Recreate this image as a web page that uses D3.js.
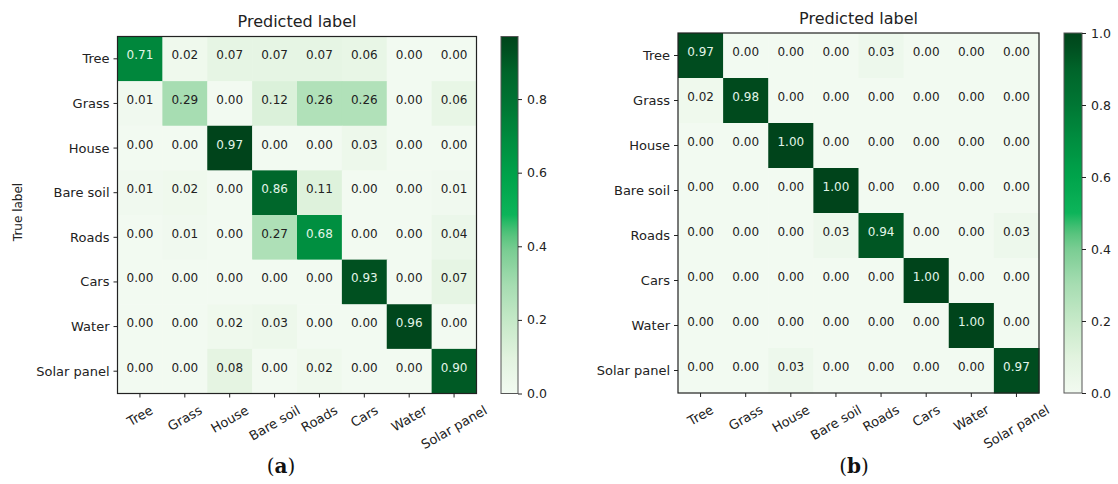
<!DOCTYPE html>
<html>
<head>
<meta charset="utf-8">
<script src="https://cdn.jsdelivr.net/npm/d3@7"></script>
<style>
  html, body { margin: 0; padding: 0; background: #ffffff; }
  svg { display: block; }
  text { font-family: "DejaVu Sans", sans-serif; fill: #222; }
</style>
</head>
<body>
<svg id="chart" width="1118" height="484"></svg>
<script>
// Land-cover classes shared by both confusion matrices
const classes = ["Tree", "Grass", "House", "Bare soil", "Roads", "Cars", "Water", "Solar panel"];

// (a) normalised confusion matrix, rows = true label, columns = predicted label
const matrixA = [
  [0.71, 0.02, 0.07, 0.07, 0.07, 0.06, 0.00, 0.00],
  [0.01, 0.29, 0.00, 0.12, 0.26, 0.26, 0.00, 0.06],
  [0.00, 0.00, 0.97, 0.00, 0.00, 0.03, 0.00, 0.00],
  [0.01, 0.02, 0.00, 0.86, 0.11, 0.00, 0.00, 0.01],
  [0.00, 0.01, 0.00, 0.27, 0.68, 0.00, 0.00, 0.04],
  [0.00, 0.00, 0.00, 0.00, 0.00, 0.93, 0.00, 0.07],
  [0.00, 0.00, 0.02, 0.03, 0.00, 0.00, 0.96, 0.00],
  [0.00, 0.00, 0.08, 0.00, 0.02, 0.00, 0.00, 0.90]
];

// (b) normalised confusion matrix
const matrixB = [
  [0.97, 0.00, 0.00, 0.00, 0.03, 0.00, 0.00, 0.00],
  [0.02, 0.98, 0.00, 0.00, 0.00, 0.00, 0.00, 0.00],
  [0.00, 0.00, 1.00, 0.00, 0.00, 0.00, 0.00, 0.00],
  [0.00, 0.00, 0.00, 1.00, 0.00, 0.00, 0.00, 0.00],
  [0.00, 0.00, 0.00, 0.03, 0.94, 0.00, 0.00, 0.03],
  [0.00, 0.00, 0.00, 0.00, 0.00, 1.00, 0.00, 0.00],
  [0.00, 0.00, 0.00, 0.00, 0.00, 0.00, 1.00, 0.00],
  [0.00, 0.00, 0.03, 0.00, 0.00, 0.00, 0.00, 0.97]
];

// Colour bar ranges and ticks
const colorMaxA = 0.97;
const colorMaxB = 1.0;
const colorTicksA = [0.0, 0.2, 0.4, 0.6, 0.8];
const colorTicksB = [0.0, 0.2, 0.4, 0.6, 0.8, 1.0];

const svg = d3.select("#chart");

// Green sequential colour map on a normalised 0..1 domain
const cmap = d3.scaleLinear()
  .domain([0, 0.1, 0.2, 0.3, 0.4, 0.45, 0.5, 0.6, 0.7, 0.8, 0.9, 0.95, 1])
  .range(["#f2faf1", "#e2f3df", "#c6e9c8", "#a7ddb2", "#7acd93", "#52c27a", "#0db45a",
          "#00a44b", "#008f40", "#007734", "#00642a", "#005221", "#00441b"])
  .interpolate(d3.interpolateRgb)
  .clamp(true);

const defs = svg.append("defs");

function drawPanel(cfg) {
  const g = svg.append("g");
  const x = d3.scaleBand().domain(d3.range(classes.length)).range([cfg.x0, cfg.x0 + cfg.w]);
  const y = d3.scaleBand().domain(d3.range(classes.length)).range([cfg.y0, cfg.y0 + cfg.h]);
  const cells = [];
  cfg.data.forEach((row, i) => row.forEach((v, j) => cells.push({ i, j, v })));

  // heatmap cells
  g.selectAll("rect.cell").data(cells).enter().append("rect")
    .attr("class", "cell")
    .attr("x", d => x(d.j))
    .attr("y", d => y(d.i))
    .attr("width", x.bandwidth() + 0.5)
    .attr("height", y.bandwidth() + 0.5)
    .attr("fill", d => cmap(d.v / cfg.vmax));

  // cell values
  g.selectAll("text.val").data(cells).enter().append("text")
    .attr("class", "val")
    .attr("x", d => x(d.j) + x.bandwidth() / 2)
    .attr("y", d => y(d.i) + y.bandwidth() / 2 + 0.5)
    .attr("text-anchor", "middle")
    .style("font-size", "12px")
    .style("fill", d => d.v > cfg.vmax / 2 ? "#e2f5e8" : "#222")
    .text(d => d.v.toFixed(2));

  // frame
  g.append("rect")
    .attr("x", cfg.x0).attr("y", cfg.y0)
    .attr("width", cfg.w).attr("height", cfg.h)
    .attr("fill", "none").attr("stroke", "#222").attr("stroke-width", 1.2);

  // left ticks and class labels
  classes.forEach((c, i) => {
    const cy = y(i) + y.bandwidth() / 2;
    g.append("line").attr("x1", cfg.x0 - 4).attr("x2", cfg.x0)
      .attr("y1", cy).attr("y2", cy).attr("stroke", "#222").attr("stroke-width", 1);
    g.append("text").attr("x", cfg.x0 - 8).attr("y", cy + 4.5)
      .attr("text-anchor", "end").style("font-size", "13px").text(c);
  });

  // bottom ticks and rotated class labels
  const angle = 30 * Math.PI / 180;
  classes.forEach((c, j) => {
    const cx = x(j) + x.bandwidth() / 2;
    const yb = cfg.y0 + cfg.h;
    g.append("line").attr("x1", cx).attr("x2", cx)
      .attr("y1", yb).attr("y2", yb + 4).attr("stroke", "#222").attr("stroke-width", 1);
    const t = g.append("text")
      .attr("text-anchor", "middle")
      .attr("dominant-baseline", "central")
      .style("font-size", "13px")
      .text(c);
    const tw = t.node().getComputedTextLength();
    const bh = tw * Math.sin(angle) + 15 * Math.cos(angle);
    const cyl = yb + 9 + bh / 2;
    t.attr("transform", `translate(${cx},${cyl}) rotate(-30)`);
  });

  // title
  g.append("text").attr("x", cfg.x0 + cfg.w / 2).attr("y", cfg.y0 - 9.5)
    .attr("text-anchor", "middle").style("font-size", "16px").text("Predicted label");

  // colour bar
  const gid = "grad" + cfg.id;
  const grad = defs.append("linearGradient").attr("id", gid)
    .attr("x1", 0).attr("y1", 1).attr("x2", 0).attr("y2", 0);
  d3.range(0, 1.0001, 0.02).forEach(t => {
    grad.append("stop").attr("offset", t).attr("stop-color", cmap(t));
  });
  const cb = cfg.cb;
  const cs = d3.scaleLinear().domain([0, cfg.vmax]).range([cfg.y0 + cfg.h, cfg.y0]);
  g.append("rect").attr("x", cb.x).attr("y", cfg.y0).attr("width", cb.w).attr("height", cfg.h)
    .attr("fill", `url(#${gid})`).attr("stroke", "#555").attr("stroke-width", 1);
  const axis = d3.axisRight(cs).tickValues(cfg.ticks).tickFormat(d3.format(".1f"))
    .tickSizeOuter(0).tickSizeInner(4).tickPadding(5);
  const ag = g.append("g").attr("transform", `translate(${cb.x + cb.w},0)`).call(axis);
  ag.select(".domain").remove();
  ag.selectAll("line").attr("stroke", "#222");
  ag.selectAll("text").style("font-size", "12.5px").style("font-family", "DejaVu Sans, sans-serif").attr("fill", "#222");

  // panel caption, e.g. (a)
  const cap = g.append("text").attr("x", cfg.capX).attr("y", 473)
    .attr("text-anchor", "middle")
    .style("font-family", "'DejaVu Serif', 'Liberation Serif', serif")
    .style("font-size", "20px").style("fill", "#111");
  cap.append("tspan").text("(");
  cap.append("tspan").style("font-weight", "bold").text(cfg.letter);
  cap.append("tspan").text(")");

  return g;
}

drawPanel({
  id: "A", data: matrixA, vmax: colorMaxA, ticks: colorTicksA,
  x0: 117.5, y0: 36.5, w: 359, h: 357,
  cb: { x: 501, w: 17 }, capX: 281, letter: "a"
});

drawPanel({
  id: "B", data: matrixB, vmax: colorMaxB, ticks: colorTicksB,
  x0: 678, y0: 33, w: 361, h: 360,
  cb: { x: 1064, w: 18 }, capX: 854, letter: "b"
});

// y-axis title for panel (a)
svg.append("text")
  .attr("transform", "translate(22,212) rotate(-90)")
  .attr("text-anchor", "middle")
  .style("font-size", "12px")
  .text("True label");
</script>
</body>
</html>
